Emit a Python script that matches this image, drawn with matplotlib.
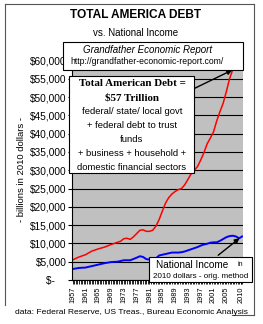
import matplotlib
matplotlib.use('Agg')
import matplotlib.pyplot as plt
from matplotlib.lines import Line2D
from matplotlib.patches import Rectangle

W, H = 263, 324

years_debt = [1957, 1959, 1961, 1963, 1965, 1967, 1969, 1971, 1972, 1973, 1974, 1975,
              1976, 1977, 1978, 1979, 1980, 1981, 1982, 1983, 1984, 1985, 1986, 1987,
              1988, 1989, 1990, 1991, 1992, 1993, 1994, 1995, 1996, 1997, 1998, 1999,
              2000, 2001, 2002, 2003, 2004, 2005, 2006, 2007, 2007.75, 2008.5, 2009, 2009.9]
total_debt = [5500, 6300, 6900, 7900, 8500, 9000, 9700, 10300, 10600, 11300, 11400, 11100,
              11800, 12700, 13600, 13700, 13300, 13300, 13600, 14700, 16500, 18800, 21000, 22500,
              23500, 24200, 24700, 25000, 26000, 27500, 29000, 30000, 31000, 32800, 34800, 37200,
              38800, 40500, 43500, 46000, 48300, 51500, 55000, 57500, 58400, 57700, 58500, 57600]

years_income = [1957, 1959, 1961, 1963, 1965, 1967, 1969, 1971, 1973, 1975, 1977, 1978,
                1979, 1980, 1981, 1982, 1983, 1984, 1985, 1986, 1987, 1988, 1989, 1990,
                1991, 1992, 1993, 1994, 1995, 1996, 1997, 1998, 1999, 2000, 2001, 2002,
                2003, 2004, 2005, 2006, 2007, 2008, 2009, 2009.9]
national_income = [3000, 3300, 3400, 3800, 4200, 4600, 4900, 5000, 5400, 5400, 6100, 6500,
                   6300, 5700, 5600, 5500, 5900, 6700, 6900, 7100, 7300, 7500, 7500, 7500,
                   7600, 7800, 8100, 8400, 8700, 9000, 9400, 9700, 9900, 10200, 10300, 10300,
                   10700, 11200, 11700, 12000, 12100, 11900, 11400, 11900]

tick_years = [1957, 1961, 1965, 1969, 1973, 1977, 1981, 1985, 1989, 1993, 1997, 2001, 2005, 2009.7]
tick_labels = ['1957', '1961', '1965', '1969', '1973', '1977', '1981', '1985', '1989',
               '1993', '1997', '2001', '2005', '2010']
y_ticks = list(range(0, 60001, 5000))
y_labels = ['$-    '] + ['${:,}'.format(v) for v in y_ticks[1:]]

plt.rcParams['font.family'] = ['Liberation Sans', 'DejaVu Sans']


def fx(x):
    return x / W


def fy(y):
    return 1 - y / H


fig = plt.figure(figsize=(W / 100, H / 100), dpi=100)
ax = fig.add_axes([fx(72), fy(280), fx(243) - fx(72), fy(59) - fy(280)])
ax.set_facecolor('#c0c0c0')
ax.plot(years_debt, total_debt, color='#ff0000', lw=1.1)
ax.plot(years_income, national_income, color='#0000ff', lw=1.4)
ax.set_xlim(1956.8, 2010.2)
ax.set_ylim(0, 60400)
ax.set_yticks(y_ticks)
ax.set_yticklabels(y_labels, fontsize=7.3)
ax.set_xticks(tick_years)
ax.set_xticklabels(tick_labels, fontsize=5.3, rotation=90)
ax.set_xticks([1957 + 0.5 * i for i in range(107)], minor=True)
ax.tick_params(axis='y', length=3, width=0.8, pad=1)
ax.tick_params(axis='x', which='both', length=3, width=0.6, pad=2)
ax.yaxis.grid(True, color='black', lw=0.8)
ax.set_axisbelow(True)
for s in ['top', 'right']:
    ax.spines[s].set_visible(False)
ax.spines['left'].set_linewidth(0.8)
ax.spines['bottom'].set_linewidth(0.8)
ax.set_ylabel('- billions in 2010 dollars -', fontsize=6.8, labelpad=3)

# titles
fig.text(fx(136), fy(15), 'TOTAL AMERICA DEBT', ha='center', va='center',
         fontsize=8.6, fontweight='bold')
fig.text(fx(136), fy(33), 'vs. National Income', ha='center', va='center', fontsize=7)

# source box
fig.patches.append(Rectangle((fx(63), fy(70)), fx(243) - fx(63), fy(42) - fy(70),
                             transform=fig.transFigure, fc='white', ec='black', lw=0.8))
fig.text(fx(148), fy(50), 'Grandfather Economic Report', ha='center', va='center',
         fontsize=7, style='italic')
fig.text(fx(147), fy(62), 'http://grandfather-economic-report.com/', ha='center',
         va='center', fontsize=6.2)

# debt box
fig.patches.append(Rectangle((fx(69), fy(173)), fx(194) - fx(69), fy(76) - fy(173),
                             transform=fig.transFigure, fc='white', ec='black', lw=0.8))
fig.text(fx(132), fy(84), 'Total American Debt =', ha='center', va='center',
         fontsize=7.9, fontweight='bold', family='Liberation Serif')
fig.text(fx(132), fy(98), '$57 Trillion', ha='center', va='center',
         fontsize=7.9, fontweight='bold', family='Liberation Serif')
box_lines = ['federal/ state/ local govt', '+ federal debt to trust', 'funds',
             '+ business + household +', 'domestic financial sectors']
for i, t in enumerate(box_lines):
    fig.text(fx(132), fy(112 + 13.8 * i), t, ha='center', va='center', fontsize=6.8)

# national income box
fig.patches.append(Rectangle((fx(149), fy(282)), fx(252) - fx(149), fy(257) - fy(282),
                             transform=fig.transFigure, fc='white', ec='black', lw=0.8))
fig.text(fx(156), fy(265), 'National Income', ha='left', va='center', fontsize=7.2)
fig.text(fx(237), fy(265), 'in', ha='left', va='center', fontsize=5)
fig.text(fx(200.5), fy(277), '2010 dollars - orig. method', ha='center', va='center',
         fontsize=5.8)

# arrows
ax.annotate('', xy=(2007.6, 57700), xycoords='data',
            xytext=(fx(185), fy(93)), textcoords='figure fraction',
            arrowprops=dict(arrowstyle='-|>', color='black', lw=1.0, mutation_scale=7))
ax.annotate('', xy=(2009.8, 11900), xycoords='data',
            xytext=(fx(216), fy(257)), textcoords='figure fraction',
            arrowprops=dict(arrowstyle='-|>', color='black', lw=1.0, mutation_scale=7),
            annotation_clip=False)

fig.text(fx(131), fy(313), 'data: Federal Reserve, US Treas., Bureau Economic Analysis',
         ha='center', va='center', fontsize=6.1)

# outer frame
for (x0, y0, x1, y1) in [(5, 4, 5, 305), (5, 4, 254, 4), (254, 4, 254, 315), (232, 315, 254, 315)]:
    fig.lines.append(Line2D([fx(x0), fx(x1)], [fy(y0), fy(y1)], transform=fig.transFigure,
                            color='#555555', lw=0.8))

fig.savefig('out.png', dpi=100)
